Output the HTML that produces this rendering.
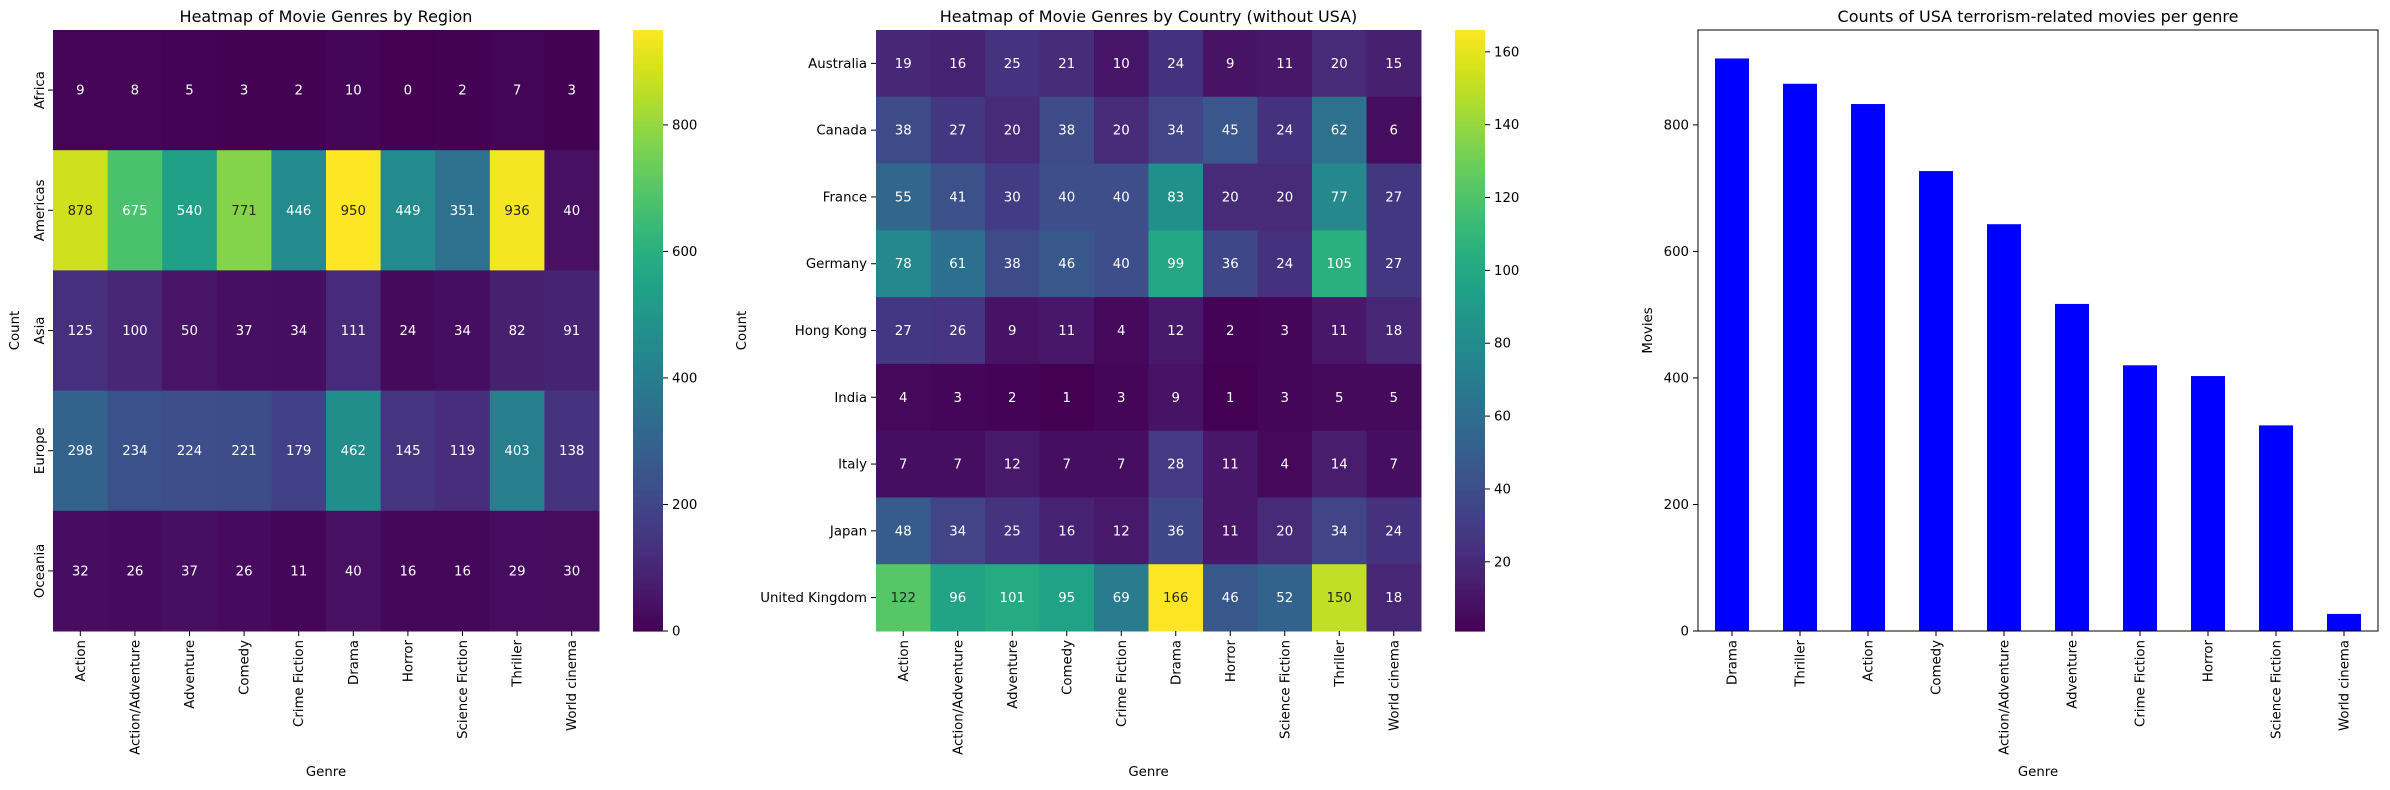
<!DOCTYPE html>
<html><head><meta charset="utf-8">
<style>
html,body{margin:0;padding:0;background:#fff;}
svg{display:block;font-family:"DejaVu Sans","Liberation Sans",sans-serif;}
</style></head>
<body>
<svg id="fig" width="2390" height="790" viewBox="0 0 2390 790" xmlns="http://www.w3.org/2000/svg"></svg>
<script>
const genres = ["Action","Action/Adventure","Adventure","Comedy","Crime Fiction","Drama","Horror","Science Fiction","Thriller","World cinema"];
const regions = ["Africa","Americas","Asia","Europe","Oceania"];
const regionValues = [
 [9,8,5,3,2,10,0,2,7,3],
 [878,675,540,771,446,950,449,351,936,40],
 [125,100,50,37,34,111,24,34,82,91],
 [298,234,224,221,179,462,145,119,403,138],
 [32,26,37,26,11,40,16,16,29,30]
];
const regionTicks = [0,200,400,600,800];
const countries = ["Australia","Canada","France","Germany","Hong Kong","India","Italy","Japan","United Kingdom"];
const countryValues = [
 [19,16,25,21,10,24,9,11,20,15],
 [38,27,20,38,20,34,45,24,62,6],
 [55,41,30,40,40,83,20,20,77,27],
 [78,61,38,46,40,99,36,24,105,27],
 [27,26,9,11,4,12,2,3,11,18],
 [4,3,2,1,3,9,1,3,5,5],
 [7,7,12,7,7,28,11,4,14,7],
 [48,34,25,16,12,36,11,20,34,24],
 [122,96,101,95,69,166,46,52,150,18]
];
const countryTicks = [20,40,60,80,100,120,140,160];
const barGenres = ["Drama","Thriller","Action","Comedy","Action/Adventure","Adventure","Crime Fiction","Horror","Science Fiction","World cinema"];
const barValues = [905,865,833,727,643,517,420,403,325,27];
const barTicks = [0,200,400,600,800];

const NS="http://www.w3.org/2000/svg";
const svg=document.getElementById('fig');
function mk(tag,attrs,parent,text){const e=document.createElementNS(NS,tag);for(const k in attrs)e.setAttribute(k,attrs[k]);if(text!==undefined)e.textContent=text;(parent||svg).appendChild(e);return e;}

const VIR=["#440154","#48186a","#472d7b","#424086","#3b528b","#33638d","#2c728e","#26828e","#21918c","#1fa088","#28ae80","#3fbc73","#5ec962","#84d44b","#addc30","#d8e219","#fde725"];
function hex2rgb(h){return [parseInt(h.substr(1,2),16),parseInt(h.substr(3,2),16),parseInt(h.substr(5,2),16)];}
function viridis(t){t=Math.max(0,Math.min(1,t));const p=t*(VIR.length-1);const i=Math.min(VIR.length-2,Math.floor(p));const f=p-i;const a=hex2rgb(VIR[i]),b=hex2rgb(VIR[i+1]);return a.map((v,k)=>Math.round(v+(b[k]-v)*f));}
function rgbStr(c){return `rgb(${c[0]},${c[1]},${c[2]})`;}
function lum(c){const l=c.map(v=>{v/=255;return v<=0.03928?v/12.92:Math.pow((v+0.055)/1.055,2.4);});return 0.2126*l[0]+0.7152*l[1]+0.0722*l[2];}

const FS=13.3;
function heatmap(o){
  const g=mk('g',{});
  const nr=o.rows.length,nc=genres.length;
  const cw=(o.x1-o.x0)/nc,rh=(o.y1-o.y0)/nr;
  const xs=c=>o.x0+c*cw, ys=r=>o.y0+r*rh;
  const cy=v=>o.y1-(v-o.vmin)/(o.vmax-o.vmin)*(o.y1-o.y0);
  for(let r=0;r<nr;r++)for(let c=0;c<nc;c++){
    const v=o.values[r][c];const col=viridis((v-o.vmin)/(o.vmax-o.vmin));
    const rc=mk('rect',{x:xs(c),y:ys(r),width:cw+0.5,height:rh+0.5,fill:rgbStr(col)},g);
    
    
    const t=mk('text',{x:xs(c)+cw/2,y:ys(r)+rh/2+4.5,'text-anchor':'middle','font-size':FS,fill:lum(col)>0.408?'#262626':'#ffffff'},g,String(v));
    
    
  }
  for(let c=0;c<nc;c++){
    const x=xs(c)+cw/2;
    mk('line',{x1:x,x2:x,y1:o.y1,y2:o.y1+5,stroke:'#000','stroke-width':1},g);
    const t=mk('text',{x:0,y:0,transform:`translate(${x+4.5},${o.y1+9}) rotate(-90)`,'text-anchor':'end','font-size':FS,fill:'#000'},g,genres[c]);
    
    
  }
  for(let r=0;r<nr;r++){
    const y=ys(r)+rh/2;
    mk('line',{x1:o.x0-5,x2:o.x0,y1:y,y2:y,stroke:'#000','stroke-width':1},g);
    let t;
    if(o.rotY){t=mk('text',{x:0,y:0,transform:`translate(${o.x0-9},${y}) rotate(-90)`,'text-anchor':'middle','font-size':FS,fill:'#000'},g,o.rows[r]);}
    else{t=mk('text',{x:o.x0-9,y:y+4.5,'text-anchor':'end','font-size':FS,fill:'#000'},g,o.rows[r]);}
    
    
  }
  const cb=mk('g',{},g);
  const steps=200;
  for(let i=0;i<steps;i++){
    const v0=o.vmin+(o.vmax-o.vmin)*i/steps, v1=o.vmin+(o.vmax-o.vmin)*(i+1)/steps;
    mk('rect',{x:o.cb0,y:cy(v1),width:o.cb1-o.cb0,height:cy(v0)-cy(v1)+0.6,fill:rgbStr(viridis((v0-o.vmin)/(o.vmax-o.vmin)))},cb);
  }
  o.ticks.forEach(v=>{
    const y=cy(v);
    mk('line',{x1:o.cb1,x2:o.cb1+5,y1:y,y2:y,stroke:'#000','stroke-width':1},cb);
    const t=mk('text',{x:o.cb1+9,y:y+4.5,'font-size':FS,fill:'#000'},cb,String(v));
    
    
  });
  mk('text',{x:(o.x0+o.x1)/2,y:22,'text-anchor':'middle','font-size':16,fill:'#000',},g,o.title);
  mk('text',{x:(o.x0+o.x1)/2,y:776,'text-anchor':'middle','font-size':FS,fill:'#000',},g,'Genre');
  mk('text',{x:0,y:0,transform:`translate(${o.ylx},${(o.y0+o.y1)/2}) rotate(-90)`,'text-anchor':'middle','font-size':FS,fill:'#000',},g,'Count');
}
heatmap({name:'region-heatmap',rows:regions,values:regionValues,x0:53,x1:599,y0:30,y1:631,vmin:0,vmax:950,ticks:regionTicks,cb0:633,cb1:663,rotY:true,ylx:19,title:'Heatmap of Movie Genres by Region'});
heatmap({name:'country-heatmap',rows:countries,values:countryValues,x0:876,x1:1421,y0:30,y1:631,vmin:1,vmax:166,ticks:countryTicks,cb0:1455,cb1:1485,rotY:false,ylx:746,title:'Heatmap of Movie Genres by Country (without USA)'});

(function(){
  const g=mk('g',{});
  const X0=1698,X1=2378,Y0=30,Y1=631,ymax=950;
  const n=barGenres.length,step=(X1-X0)/n;
  const xc=i=>X0+(i+0.5)*step, yv=v=>Y1-v/ymax*(Y1-Y0);
  barValues.forEach((v,i)=>{
    const r=mk('rect',{x:xc(i)-step*0.25,y:yv(v),width:step*0.5,height:Y1-yv(v),fill:'#0000ff'},g);
    
    
    mk('line',{x1:xc(i),x2:xc(i),y1:Y1,y2:Y1+5,stroke:'#000','stroke-width':1},g);
    const t=mk('text',{x:0,y:0,transform:`translate(${xc(i)+4.5},${Y1+9}) rotate(-90)`,'text-anchor':'end','font-size':FS,fill:'#000'},g,barGenres[i]);
    
    
  });
  barTicks.forEach(v=>{
    const y=yv(v);
    mk('line',{x1:X0-5,x2:X0,y1:y,y2:y,stroke:'#000','stroke-width':1},g);
    const t=mk('text',{x:X0-9,y:y+4.5,'text-anchor':'end','font-size':FS,fill:'#000'},g,String(v));
    
    
  });
  mk('rect',{x:X0,y:Y0,width:X1-X0,height:Y1-Y0,fill:'none',stroke:'#000','stroke-width':1,},g);
  mk('text',{x:(X0+X1)/2,y:22,'text-anchor':'middle','font-size':16,fill:'#000',},g,'Counts of USA terrorism-related movies per genre');
  mk('text',{x:(X0+X1)/2,y:776,'text-anchor':'middle','font-size':FS,fill:'#000',},g,'Genre');
  mk('text',{x:0,y:0,transform:`translate(1652,${(Y0+Y1)/2}) rotate(-90)`,'text-anchor':'middle','font-size':FS,fill:'#000',},g,'Movies');
})();
</script>
</body></html>
